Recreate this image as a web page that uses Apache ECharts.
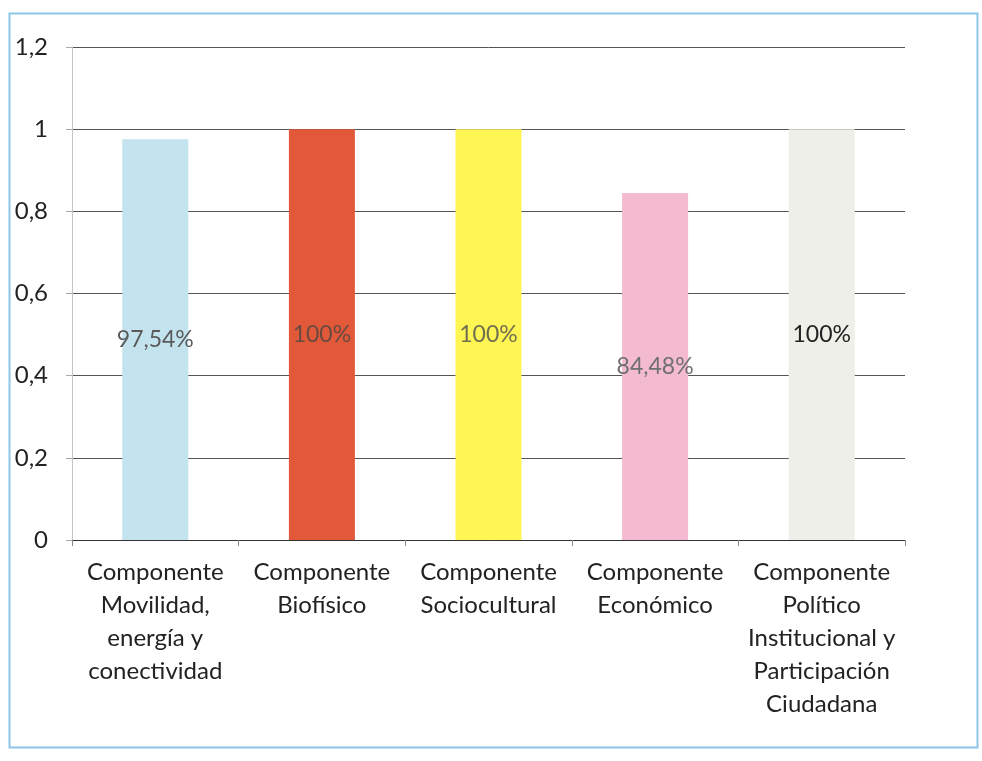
<!DOCTYPE html>
<html>
<head>
<meta charset="utf-8">
<script src="https://cdn.jsdelivr.net/npm/echarts@6/dist/echarts.min.js"></script>
<style>
html,body{margin:0;padding:0;background:#fff;}
#c{width:982px;height:761px;}
</style>
</head>
<body>
<div id="c"></div>
<script>
const categories = [
  "Componente\nMovilidad,\nenergía y\nconectividad",
  "Componente\nBiofísico",
  "Componente\nSociocultural",
  "Componente\nEconómico",
  "Componente\nPolítico\nInstitucional y\nParticipación\nCiudadana"
];
const values = [0.9754, 1, 1, 0.8448, 1];
const barColors = ["#c3e4ef", "#e2593a", "#fff553", "#f3bad2", "#efefe9"];
const labelColors = ["#5a5a5a", "#6a4a40", "#707050", "#707070", "#222222"];

const font = "Lato, 'Open Sans', sans-serif";
const chart = echarts.init(document.getElementById('c'));
chart.setOption({
  animation: false,
  backgroundColor: '#fff',
  graphic: [{
    type: 'rect',
    shape: {x: 9.5, y: 13.5, width: 968, height: 734},
    style: {fill: 'none', stroke: '#8cc6e8', lineWidth: 2},
    silent: true
  }],
  grid: {left: 72, right: 77, top: 47, bottom: 221, containLabel: false},
  xAxis: {
    type: 'category',
    data: categories,
    axisLine: {show: true, lineStyle: {color: '#333', width: 1}},
    axisTick: {show: true, alignWithLabel: false, length: 6, lineStyle: {color: '#888'}},
    axisLabel: {
      interval: 0,
      margin: 16,
      color: '#222',
      fontFamily: font,
      fontSize: 24,
      lineHeight: 33
    }
  },
  yAxis: {
    type: 'value',
    min: 0,
    max: 1.2,
    interval: 0.2,
    axisLine: {show: true, lineStyle: {color: '#c4c4c4', width: 1}},
    axisTick: {show: true, length: 6, lineStyle: {color: '#aaa'}},
    splitLine: {show: true, lineStyle: {color: '#555', width: 1}},
    axisLabel: {
      margin: 24,
      color: '#222',
      fontFamily: font,
      fontSize: 24,
      formatter: v => String(Math.round(v * 10) / 10).replace('.', ',')
    }
  },
  series: [{
    type: 'bar',
    barWidth: 66,
    data: values.map((v, i) => ({
      value: v,
      itemStyle: {color: barColors[i]},
      label: {color: labelColors[i]}
    })),
    label: {
      show: true,
      position: 'inside',
      fontFamily: font,
      fontSize: 23,
      formatter: p => {
        const pct = Math.round(p.value * 10000) / 100;
        return String(pct).replace('.', ',') + '%';
      }
    }
  }]
});
</script>
</body>
</html>
